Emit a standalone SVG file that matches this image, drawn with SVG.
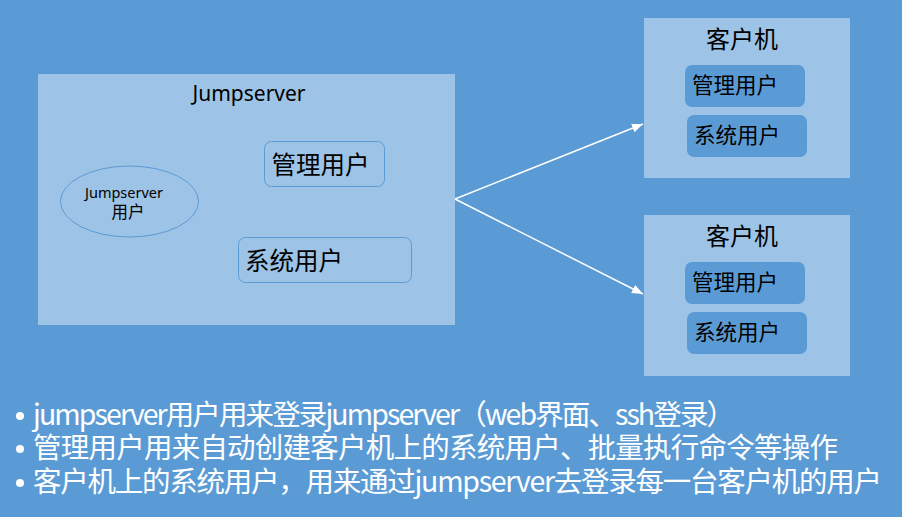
<svg xmlns="http://www.w3.org/2000/svg" width="902" height="517" viewBox="0 0 902 517">
<style>
.bg{fill:#5B9BD5}
.box{fill:#9DC3E6}
.inner{fill:#9DC3E6;stroke:#5B9BD5;stroke-width:1}
.cinner{fill:#5B9BD5}
.t{font-family:"Noto Sans","Noto Sans CJK SC",sans-serif;fill:#000}
.cjk{font-family:"Noto Sans CJK SC",sans-serif;fill:#000}
.bul{font-family:"Noto Sans CJK SC",sans-serif;fill:#fff;font-size:28.5px}
.conn{stroke:#fff;stroke-width:1.5;fill:none}
</style>
<defs>
<marker id="arr" markerUnits="userSpaceOnUse" markerWidth="12" markerHeight="10" refX="11" refY="4.5" orient="auto">
<path d="M0,0 L11,4.5 L0,9 z" fill="#fff"/>
</marker>
</defs>
<rect class="bg" x="0" y="0" width="902" height="517"/>

<g id="jumpserver">
<rect class="box" x="38" y="74" width="417" height="251"/>
<text class="t" x="249" y="101" font-size="21" text-anchor="middle">Jumpserver</text>
</g>
<g id="jumpserver-user">
<ellipse cx="129.5" cy="201.5" rx="69" ry="35.5" fill="none" stroke="#5B9BD5" stroke-width="1"/>
<text class="t" x="124" y="197.5" font-size="14.5" text-anchor="middle">Jumpserver</text>
<text class="cjk" x="128" y="217.5" font-size="16.5" text-anchor="middle">用户</text>
</g>
<g id="js-admin-user">
<rect class="inner" x="264.5" y="141.5" width="120" height="45" rx="7"/>
<text class="cjk" x="271.5" y="174" font-size="24.5">管理用户</text>
</g>
<g id="js-system-user">
<rect class="inner" x="238.5" y="237.5" width="173" height="45" rx="7"/>
<text class="cjk" x="245" y="270" font-size="24.5">系统用户</text>
</g>

<g id="client1">
<rect class="box" x="644" y="18" width="206" height="160"/>
<text class="cjk" x="742" y="48" font-size="24" text-anchor="middle">客户机</text>
<rect class="cinner" x="685" y="65" width="120" height="42" rx="7"/>
<text class="cjk" x="692" y="93" font-size="21.5">管理用户</text>
<rect class="cinner" x="687" y="115" width="120" height="42" rx="7"/>
<text class="cjk" x="694" y="143" font-size="21.5">系统用户</text>
</g>

<g id="client2">
<rect class="box" x="644" y="215" width="206" height="161"/>
<text class="cjk" x="742" y="245" font-size="24" text-anchor="middle">客户机</text>
<rect class="cinner" x="685" y="262" width="120" height="42" rx="7"/>
<text class="cjk" x="692" y="290" font-size="21.5">管理用户</text>
<rect class="cinner" x="687" y="312" width="120" height="42" rx="7"/>
<text class="cjk" x="694" y="340" font-size="21.5">系统用户</text>
</g>

<g id="connectors">
<line class="conn" x1="455" y1="199" x2="643" y2="124" marker-end="url(#arr)"/>
<line class="conn" x1="455" y1="199" x2="643" y2="294" marker-end="url(#arr)"/>
</g>

<g id="notes">
<circle cx="20" cy="416" r="4" fill="#fff"/>
<circle cx="20" cy="449" r="4" fill="#fff"/>
<circle cx="20" cy="483" r="4" fill="#fff"/>
<text class="bul" x="33" y="425" textLength="702">jumpserver用户用来登录jumpserver（web界面、ssh登录）</text>
<text class="bul" x="33" y="458" textLength="805">管理用户用来自动创建客户机上的系统用户、批量执行命令等操作</text>
<text class="bul" x="33" y="492" textLength="849">客户机上的系统用户，用来通过jumpserver去登录每一台客户机的用户</text>
</g>
</svg>
